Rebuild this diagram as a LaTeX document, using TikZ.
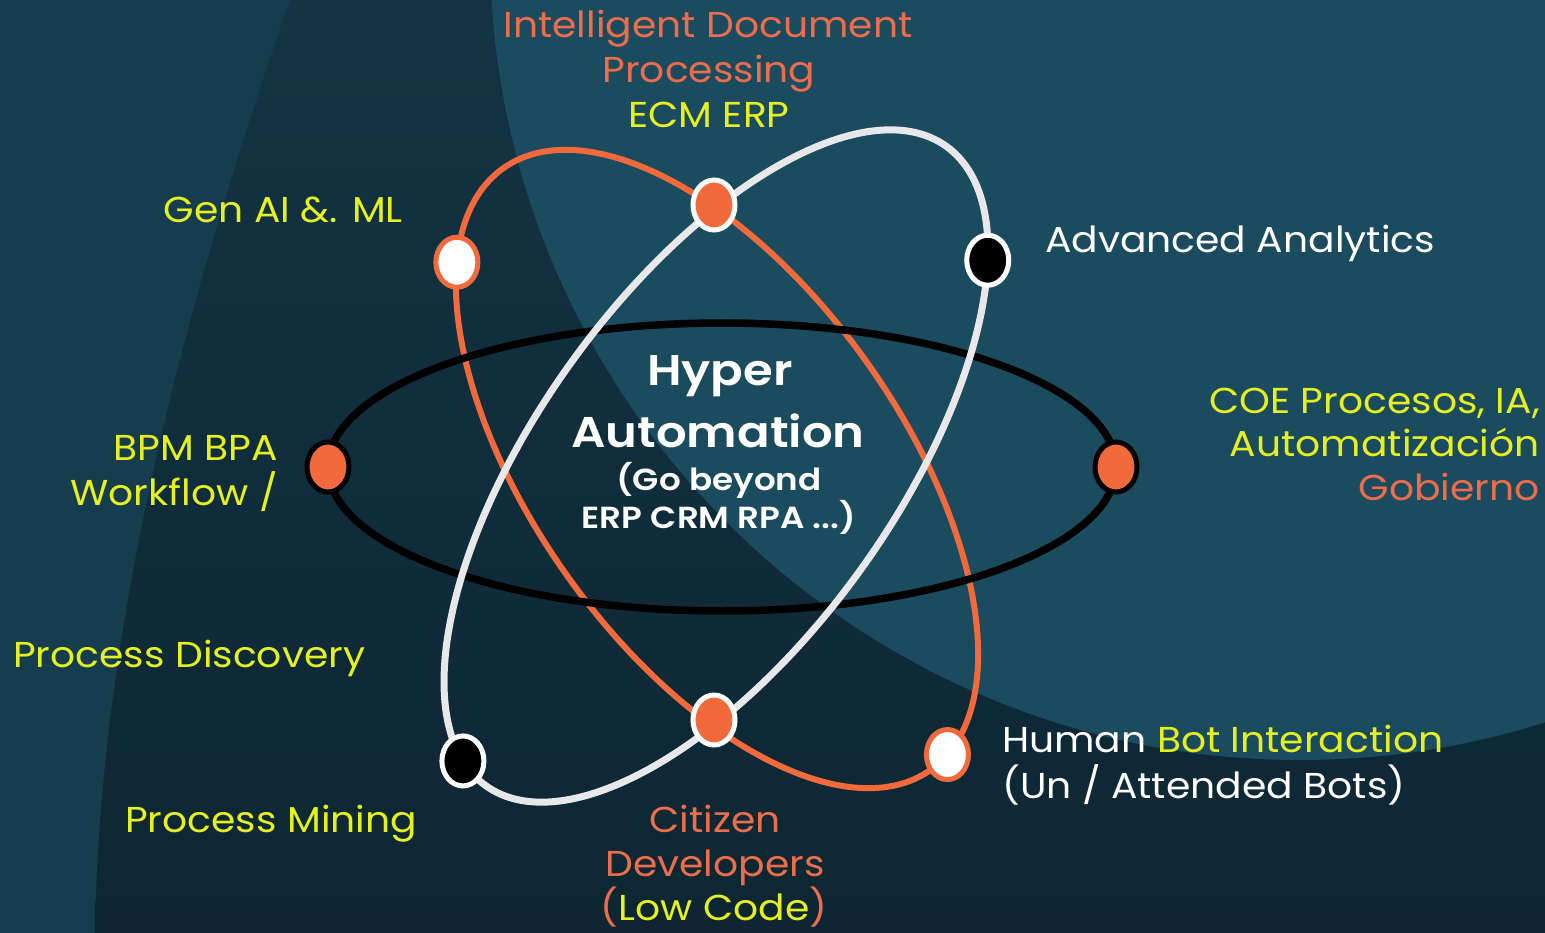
\documentclass[tikz,border=0pt]{standalone}
\usepackage{fontspec}
\usetikzlibrary{shapes.geometric}
\setmainfont{Poppins}[FakeStretch=1.09]
\newfontfamily\semib{Poppins SemiBold}[FakeStretch=1.12]
\definecolor{bgleft}{HTML}{153D4D}
\definecolor{bgdarktop}{HTML}{123444}
\definecolor{bgdarkbot}{HTML}{0D2632}
\definecolor{bglight}{HTML}{1A4B5E}
\definecolor{orng}{HTML}{F26A3C}
\definecolor{lblorange}{HTML}{EC6D4B}
\definecolor{ylw}{HTML}{E6F020}
\definecolor{wline}{HTML}{E8E8EA}
\tikzset{
  orbitO/.style={draw=orng, line width=6pt},
  orbitB/.style={draw=black, line width=7.5pt},
  orbitW/.style={draw=wline, line width=7pt},
  dot/.style={ellipse, minimum width=42pt, minimum height=50pt, inner sep=0pt, line width=5pt},
  lbl/.style={inner sep=0pt, font=\fontsize{36}{45}\selectfont},
  ctr/.style={inner sep=0pt, text=white, font=\semib\fontsize{43}{50}\selectfont},
  ctrs/.style={inner sep=0pt, text=white, font=\semib\fontsize{30.5}{38}\selectfont},
}
\begin{document}
\begin{tikzpicture}[x=1pt,y=-1pt]
\useasboundingbox (0,0) rectangle (1545,933);
% background
\fill[bgleft] (0,0) rectangle (1545,933);
\shade[top color=bgdarktop, bottom color=bgdarkbot] (290,0) .. controls (200,260) and (100,600) .. (95,933) -- (1545,933) -- (1545,0) -- cycle;
\begin{scope}
  \clip (0,0) rectangle (1545,933);
  \fill[bglight] (1300,-50) circle[radius=810pt];
\end{scope}
% orange orbit
\begin{scope}[shift={(717,469)}, rotate=-54.6]
  \draw[orbitO] (0,0) ellipse [x radius=369pt, y radius=184pt];
  \coordinate (pGen) at (210.1:369pt and 184pt);
  \coordinate (pHum) at (7:369pt and 184pt);
\end{scope}
% black orbit
\draw[orbitB] (722,467) ellipse [x radius=394pt, y radius=144pt];
\coordinate (pBPM) at (328,467);
\coordinate (pCOE) at (1116,467);
% white orbit
\begin{scope}[shift={(716,466)}, rotate=54.2]
  \draw[orbitW] (0,0) ellipse [x radius=394pt, y radius=178pt];
  \coordinate (pAA) at (-34.2:394pt and 178pt);
  \coordinate (pPM) at (169.4:394pt and 178pt);
\end{scope}
% dots
\node[dot, fill=white, draw=orng] (dGen) at (pGen) {};
\node[dot, fill=orng, draw=white] (dIDP) at (714,205) {};
\node[dot, fill=black, draw=white] (dAA) at (pAA) {};
\node[dot, fill=orng, draw=black] (dBPM) at (pBPM) {};
\node[dot, fill=orng, draw=black] (dCOE) at (pCOE) {};
\node[dot, fill=black, draw=white] (dPM) at (pPM) {};
\node[dot, fill=orng, draw=white] (dCit) at (714,720) {};
\node[dot, fill=white, draw=orng] (dHum) at (pHum) {};
% center text
\node[ctr, anchor=base] (t1) at (720,385) {Hyper};
\node[ctr, anchor=base] (t2) at (718,447) {Automation};
\node[ctrs, anchor=base] (t3) at (719,490) {(Go beyond};
\node[ctrs, anchor=base] (t4) at (719,528) {ERP CRM RPA ...)};
% labels
\node[lbl, anchor=base, text=lblorange] (l1) at (708,38) {Intelligent Document};
\node[lbl, anchor=base, text=lblorange] (l2) at (709,83) {Processing};
\node[lbl, anchor=base, text=ylw] (l3) at (709,128) {ECM ERP};
\node[lbl, anchor=base east, text=ylw] (l4) at (403,223) {Gen AI \&. ML};
\node[lbl, anchor=base west, text=white] (l5) at (1045,253) {Advanced Analytics};
\node[lbl, anchor=base east, text=ylw] (l6) at (1540,413) {COE Procesos, IA,};
\node[lbl, anchor=base east, text=ylw] (l7) at (1540,456) {Automatización};
\node[lbl, anchor=base east, text=lblorange] (l8) at (1540,500) {Gobierno};
\node[lbl, anchor=base east, text=ylw] (l9) at (278,460) {BPM BPA};
\node[lbl, anchor=base east, text=ylw] (l10) at (278,505) {Workflow /};
\node[lbl, anchor=base west, text=ylw] (l11) at (13,667) {Process Discovery};
\node[lbl, anchor=base west, text=ylw] (l12) at (125,832) {Process Mining};
\node[lbl, anchor=base, text=lblorange] (l13) at (715,832) {Citizen};
\node[lbl, anchor=base, text=lblorange] (l14) at (715,876) {Developers};
\node[lbl, anchor=base, text=lblorange] (l15) at (714,920) {(\textcolor{ylw}{Low Code})};
\node[lbl, anchor=base west, text=white] (l16) at (1002,752) {Human \textcolor{ylw}{Bot Interaction}};
\node[lbl, anchor=base west, text=white] (l17) at (1002,798) {(Un / Attended Bots)};
\end{tikzpicture}
\end{document}
